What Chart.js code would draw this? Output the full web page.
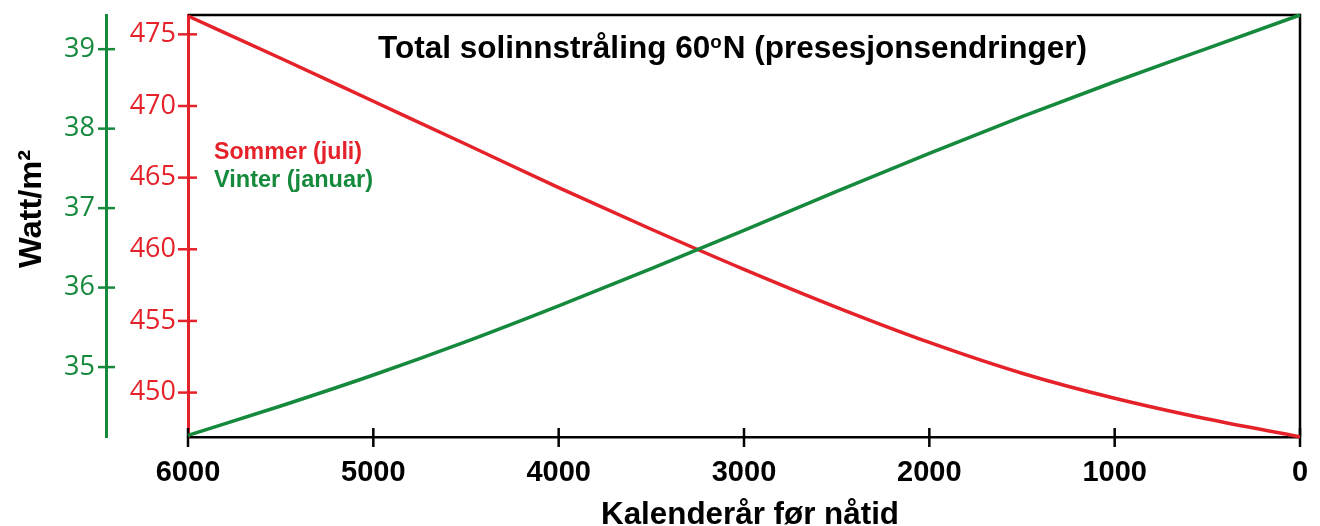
<!DOCTYPE html>
<html lang="no">
<head>
<meta charset="utf-8">
<title>Total solinnstråling 60°N</title>
<script src="https://cdn.jsdelivr.net/npm/chart.js@4.4.0/dist/chart.umd.min.js"></script>
<style>
    html, body { margin: 0; padding: 0; background: #fff; }
    #wrap { width: 1320px; height: 526px; position: relative; }
</style>
</head>
<body>
<div id="wrap"><canvas id="insolation-chart"></canvas></div>
<script>
// Values (every 500 years)
const years = [6000, 5500, 5000, 4500, 4000, 3500, 3000, 2500, 2000, 1500, 1000, 500, 0];
const summerJuly = [476.28, 473.33, 470.33, 467.33, 464.3, 461.4, 458.6, 455.95, 453.5, 451.35, 449.6, 448.15, 446.91];
const winterJanuary = [34.14, 34.51, 34.90, 35.32, 35.77, 36.24, 36.72, 37.21, 37.69, 38.15, 38.59, 39.01, 39.43];

// Tick labels
const yearTicks = [6000, 5000, 4000, 3000, 2000, 1000, 0];
const summerTicks = [450, 455, 460, 465, 470, 475];
const winterTicks = [35, 36, 37, 38, 39];

// Texts
const titleMain = 'Total solinnstråling 60';
const titleSup = 'o';
const titleRest = 'N (presesjonsendringer)';
const xTitle = 'Kalenderår før nåtid';
const yTitle = 'Watt/m²';

const RED = '#e52129';
const GREEN = '#15893c';
const BOLD = '"Liberation Sans", Arial, sans-serif';

function toPoints(values) {
    return years.map((year, i) => ({ x: year, y: values[i] }));
}

function fixedTicks(list) {
    return function (scale) {
        scale.ticks = list.map(v => ({ value: v }));
    };
}

// draw text squeezed/stretched to a given width
function fittedText(ctx, text, cx, baseline, font, width, rotate) {
    ctx.save();
    ctx.font = font;
    const w = ctx.measureText(text).width;
    ctx.translate(cx, baseline);
    if (rotate) ctx.rotate(-Math.PI / 2);
    ctx.scale(width / w, 1);
    ctx.textAlign = 'center';
    ctx.textBaseline = 'alphabetic';
    ctx.fillText(text, 0, 0);
    ctx.restore();
}

const decorPlugin = {
    id: 'decor',
    beforeDatasetsDraw(chart) {
        const { ctx, chartArea: area, scales } = chart;
        ctx.save();

        // top and right frame
        ctx.strokeStyle = '#000';
        ctx.lineWidth = 2.5;
        ctx.beginPath();
        ctx.moveTo(area.left, area.top);
        ctx.lineTo(area.right, area.top);
        ctx.lineTo(area.right, area.bottom);
        ctx.stroke();

        // tick marks crossing the axis lines
        ctx.strokeStyle = '#000';
        scales.x.ticks.forEach(t => {
            const px = scales.x.getPixelForValue(t.value);
            ctx.beginPath();
            ctx.moveTo(px, area.bottom - 9);
            ctx.lineTo(px, area.bottom + 10);
            ctx.stroke();
        });

        ctx.strokeStyle = RED;
        scales.ySummer.ticks.forEach(t => {
            const py = scales.ySummer.getPixelForValue(t.value);
            ctx.beginPath();
            ctx.moveTo(scales.ySummer.right - 10, py);
            ctx.lineTo(scales.ySummer.right + 9, py);
            ctx.stroke();
        });

        ctx.strokeStyle = GREEN;
        scales.yWinter.ticks.forEach(t => {
            const py = scales.yWinter.getPixelForValue(t.value);
            ctx.beginPath();
            ctx.moveTo(scales.yWinter.right - 8, py);
            ctx.lineTo(scales.yWinter.right + 9, py);
            ctx.stroke();
        });
        ctx.restore();
    },
    afterDraw(chart) {
        const { ctx } = chart;
        ctx.save();
        ctx.fillStyle = '#000';

        // title with a raised small "o"
        const bigFont = 'bold 32px ' + BOLD;
        const supFont = 'bold 19px ' + BOLD;
        ctx.font = bigFont;
        const w1 = ctx.measureText(titleMain).width;
        const w3 = ctx.measureText(titleRest).width;
        ctx.font = supFont;
        const w2 = ctx.measureText(titleSup).width + 1;
        const sx = 709 / (w1 + w2 + w3);
        ctx.translate(378, 58);
        ctx.scale(sx, 1);
        ctx.textBaseline = 'alphabetic';
        ctx.textAlign = 'left';
        ctx.font = bigFont;
        ctx.fillText(titleMain, 0, 0);
        ctx.font = supFont;
        ctx.fillText(titleSup, w1, -10);
        ctx.font = bigFont;
        ctx.fillText(titleRest, w1 + w2, 0);
        ctx.setTransform(1, 0, 0, 1, 0, 0);

        // axis titles
        fittedText(ctx, xTitle, 750, 524, 'bold 32px ' + BOLD, 298, false);
        fittedText(ctx, yTitle, 41, 209, 'bold 32px ' + BOLD, 118, true);

        // legend text
        const datasets = chart.data.datasets;
        ctx.fillStyle = datasets[0].borderColor;
        fittedText(ctx, datasets[0].label, 214 + 74, 159, 'bold 23px ' + BOLD, 148, false);
        ctx.fillStyle = datasets[1].borderColor;
        fittedText(ctx, datasets[1].label, 214 + 79.5, 187, 'bold 23px ' + BOLD, 159, false);
        ctx.restore();
    }
};

document.addEventListener('DOMContentLoaded', function () {
    const ctx = document.getElementById('insolation-chart').getContext('2d');

    new Chart(ctx, {
        type: 'line',
        data: {
            datasets: [{
                label: 'Sommer (juli)',
                data: toPoints(summerJuly),
                yAxisID: 'ySummer',
                borderColor: RED,
                borderWidth: 3.5,
                pointRadius: 0,
                cubicInterpolationMode: 'monotone',
                clip: false,
                order: 1
            }, {
                label: 'Vinter (januar)',
                data: toPoints(winterJanuary),
                yAxisID: 'yWinter',
                borderColor: GREEN,
                borderWidth: 3.5,
                pointRadius: 0,
                cubicInterpolationMode: 'monotone',
                clip: false,
                order: 0
            }]
        },
        options: {
            responsive: true,
            maintainAspectRatio: false,
            animation: false,
            layout: {
                padding: { top: 15, right: 20, left: 0, bottom: 0 }
            },
            plugins: {
                legend: { display: false },
                tooltip: { enabled: false }
            },
            scales: {
                x: {
                    type: 'linear',
                    reverse: true,
                    min: 0,
                    max: 6000,
                    afterBuildTicks: fixedTicks(yearTicks),
                    afterFit: scale => {
                        scale.height = 89;
                        scale.paddingLeft = 0;
                        scale.paddingRight = 0;
                    },
                    border: { color: '#000', width: 2.5 },
                    grid: { drawOnChartArea: false, drawTicks: false },
                    ticks: {
                        color: '#000',
                        padding: 19,
                        maxRotation: 0,
                        autoSkip: false,
                        font: { family: BOLD, weight: 'bold', size: 29 },
                        callback: value => String(value)
                    }
                },
                ySummer: {
                    type: 'linear',
                    position: 'left',
                    weight: 0,
                    min: 446.9,
                    max: 476.35,
                    afterBuildTicks: fixedTicks(summerTicks),
                    afterFit: scale => {
                        scale.width = 82;
                        scale.paddingTop = 0;
                        scale.paddingBottom = 0;
                    },
                    border: { color: RED, width: 3 },
                    grid: { drawOnChartArea: false, drawTicks: false },
                    ticks: {
                        color: RED,
                        padding: 12,
                        font: { family: '"Open Sans", sans-serif', size: 27 },
                        callback: value => String(value)
                    }
                },
                yWinter: {
                    type: 'linear',
                    position: 'left',
                    weight: 1,
                    min: 34.12,
                    max: 39.43,
                    afterBuildTicks: fixedTicks(winterTicks),
                    afterFit: scale => {
                        scale.width = 106;
                        scale.paddingTop = 0;
                        scale.paddingBottom = 0;
                    },
                    border: { color: GREEN, width: 3 },
                    grid: { drawOnChartArea: false, drawTicks: false },
                    ticks: {
                        color: GREEN,
                        padding: 11,
                        font: { family: '"Open Sans", sans-serif', size: 27 },
                        callback: value => String(value)
                    }
                }
            }
        },
        plugins: [decorPlugin]
    });
});
</script>
</body>
</html>
